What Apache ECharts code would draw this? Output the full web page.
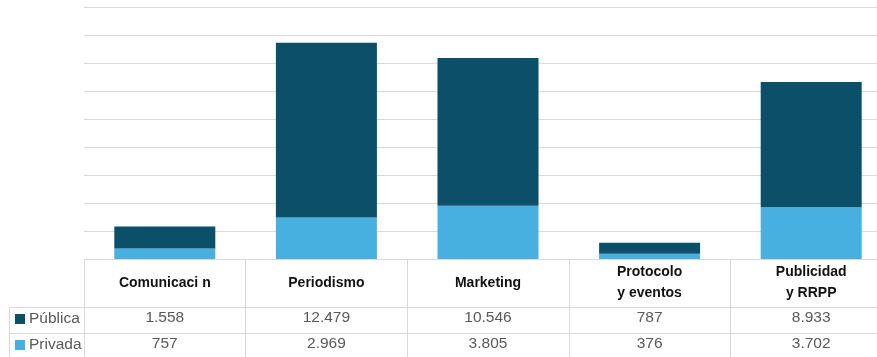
<!DOCTYPE html>
<html>
<head>
<meta charset="utf-8">
<script src="https://cdn.jsdelivr.net/npm/echarts@6/dist/echarts.min.js"></script>
<style>html,body{margin:0;padding:0;background:#fff;overflow:hidden;width:877px;height:357px}#c{width:892px;height:357px}</style>
</head>
<body>
<div id="c"></div>
<script>
const categories = ['Comunicaci n', 'Periodismo', 'Marketing', 'Protocolo\ny eventos', 'Publicidad\ny RRPP'];
const publica = [1558, 12479, 10546, 787, 8933];
const privada = [757, 2969, 3805, 376, 3702];
const seriesNames = ['Pública', 'Privada'];

const fmt = v => String(v).replace(/\B(?=(\d{3})+(?!\d))/g, '.');
const DARK = '#0b4f69', LIGHT = '#47b0e0', LINE = '#d9d9d9', TXT = '#595959';

const chart = echarts.init(document.getElementById('c'));
const rowAxis = (vals, off) => ({
  type: 'category', data: vals.map(fmt), position: 'bottom', offset: off,
  axisLine: {show: false}, axisTick: {show: false},
  axisLabel: {margin: 0, verticalAlign: 'middle', color: TXT, fontSize: 15.5, fontFamily: 'Liberation Sans'}
});
const legendFor = (name, top) => ({
  orient: 'vertical', left: 15, top: top, padding: 0, itemWidth: 10, itemHeight: 10,
  icon: 'rect', selectedMode: false,
  textStyle: {color: TXT, fontSize: 15.5, fontFamily: 'Liberation Sans', padding: [0, 0, 0, -1]},
  data: [name]
});
chart.setOption({
  animation: false,
  grid: {left: 84, top: 7, right: 0, height: 252},
  legend: [legendFor(seriesNames[0], 311), legendFor(seriesNames[1], 337)],
  xAxis: [
    {
      type: 'category', data: categories,
      axisLine: {lineStyle: {color: LINE}},
      axisTick: {show: true, length: 98, lineStyle: {color: LINE}},
      axisLabel: {margin: 24, verticalAlign: 'middle', color: '#111', fontWeight: 'bold', fontSize: 14,
        lineHeight: 21, fontFamily: 'Liberation Sans'}
    },
    rowAxis(publica, 59),
    rowAxis(privada, 85)
  ],
  yAxis: {
    type: 'value', min: 0, max: 18000, interval: 2000,
    axisLabel: {show: false}, axisLine: {show: false}, axisTick: {show: false},
    splitLine: {lineStyle: {color: LINE}}
  },
  graphic: [
    {type: 'line', shape: {x1: 9, y1: 307.5, x2: 892, y2: 307.5}, style: {stroke: LINE, lineWidth: 1}},
    {type: 'line', shape: {x1: 9, y1: 333.5, x2: 892, y2: 333.5}, style: {stroke: LINE, lineWidth: 1}},
    {type: 'line', shape: {x1: 9.5, y1: 307, x2: 9.5, y2: 357}, style: {stroke: LINE, lineWidth: 1}}
  ],
  series: [
    {name: seriesNames[1], type: 'bar', stack: 't', data: privada, barWidth: 101, itemStyle: {color: LIGHT}},
    {name: seriesNames[0], type: 'bar', stack: 't', data: publica, barWidth: 101, itemStyle: {color: DARK}}
  ]
});
</script>
</body>
</html>
